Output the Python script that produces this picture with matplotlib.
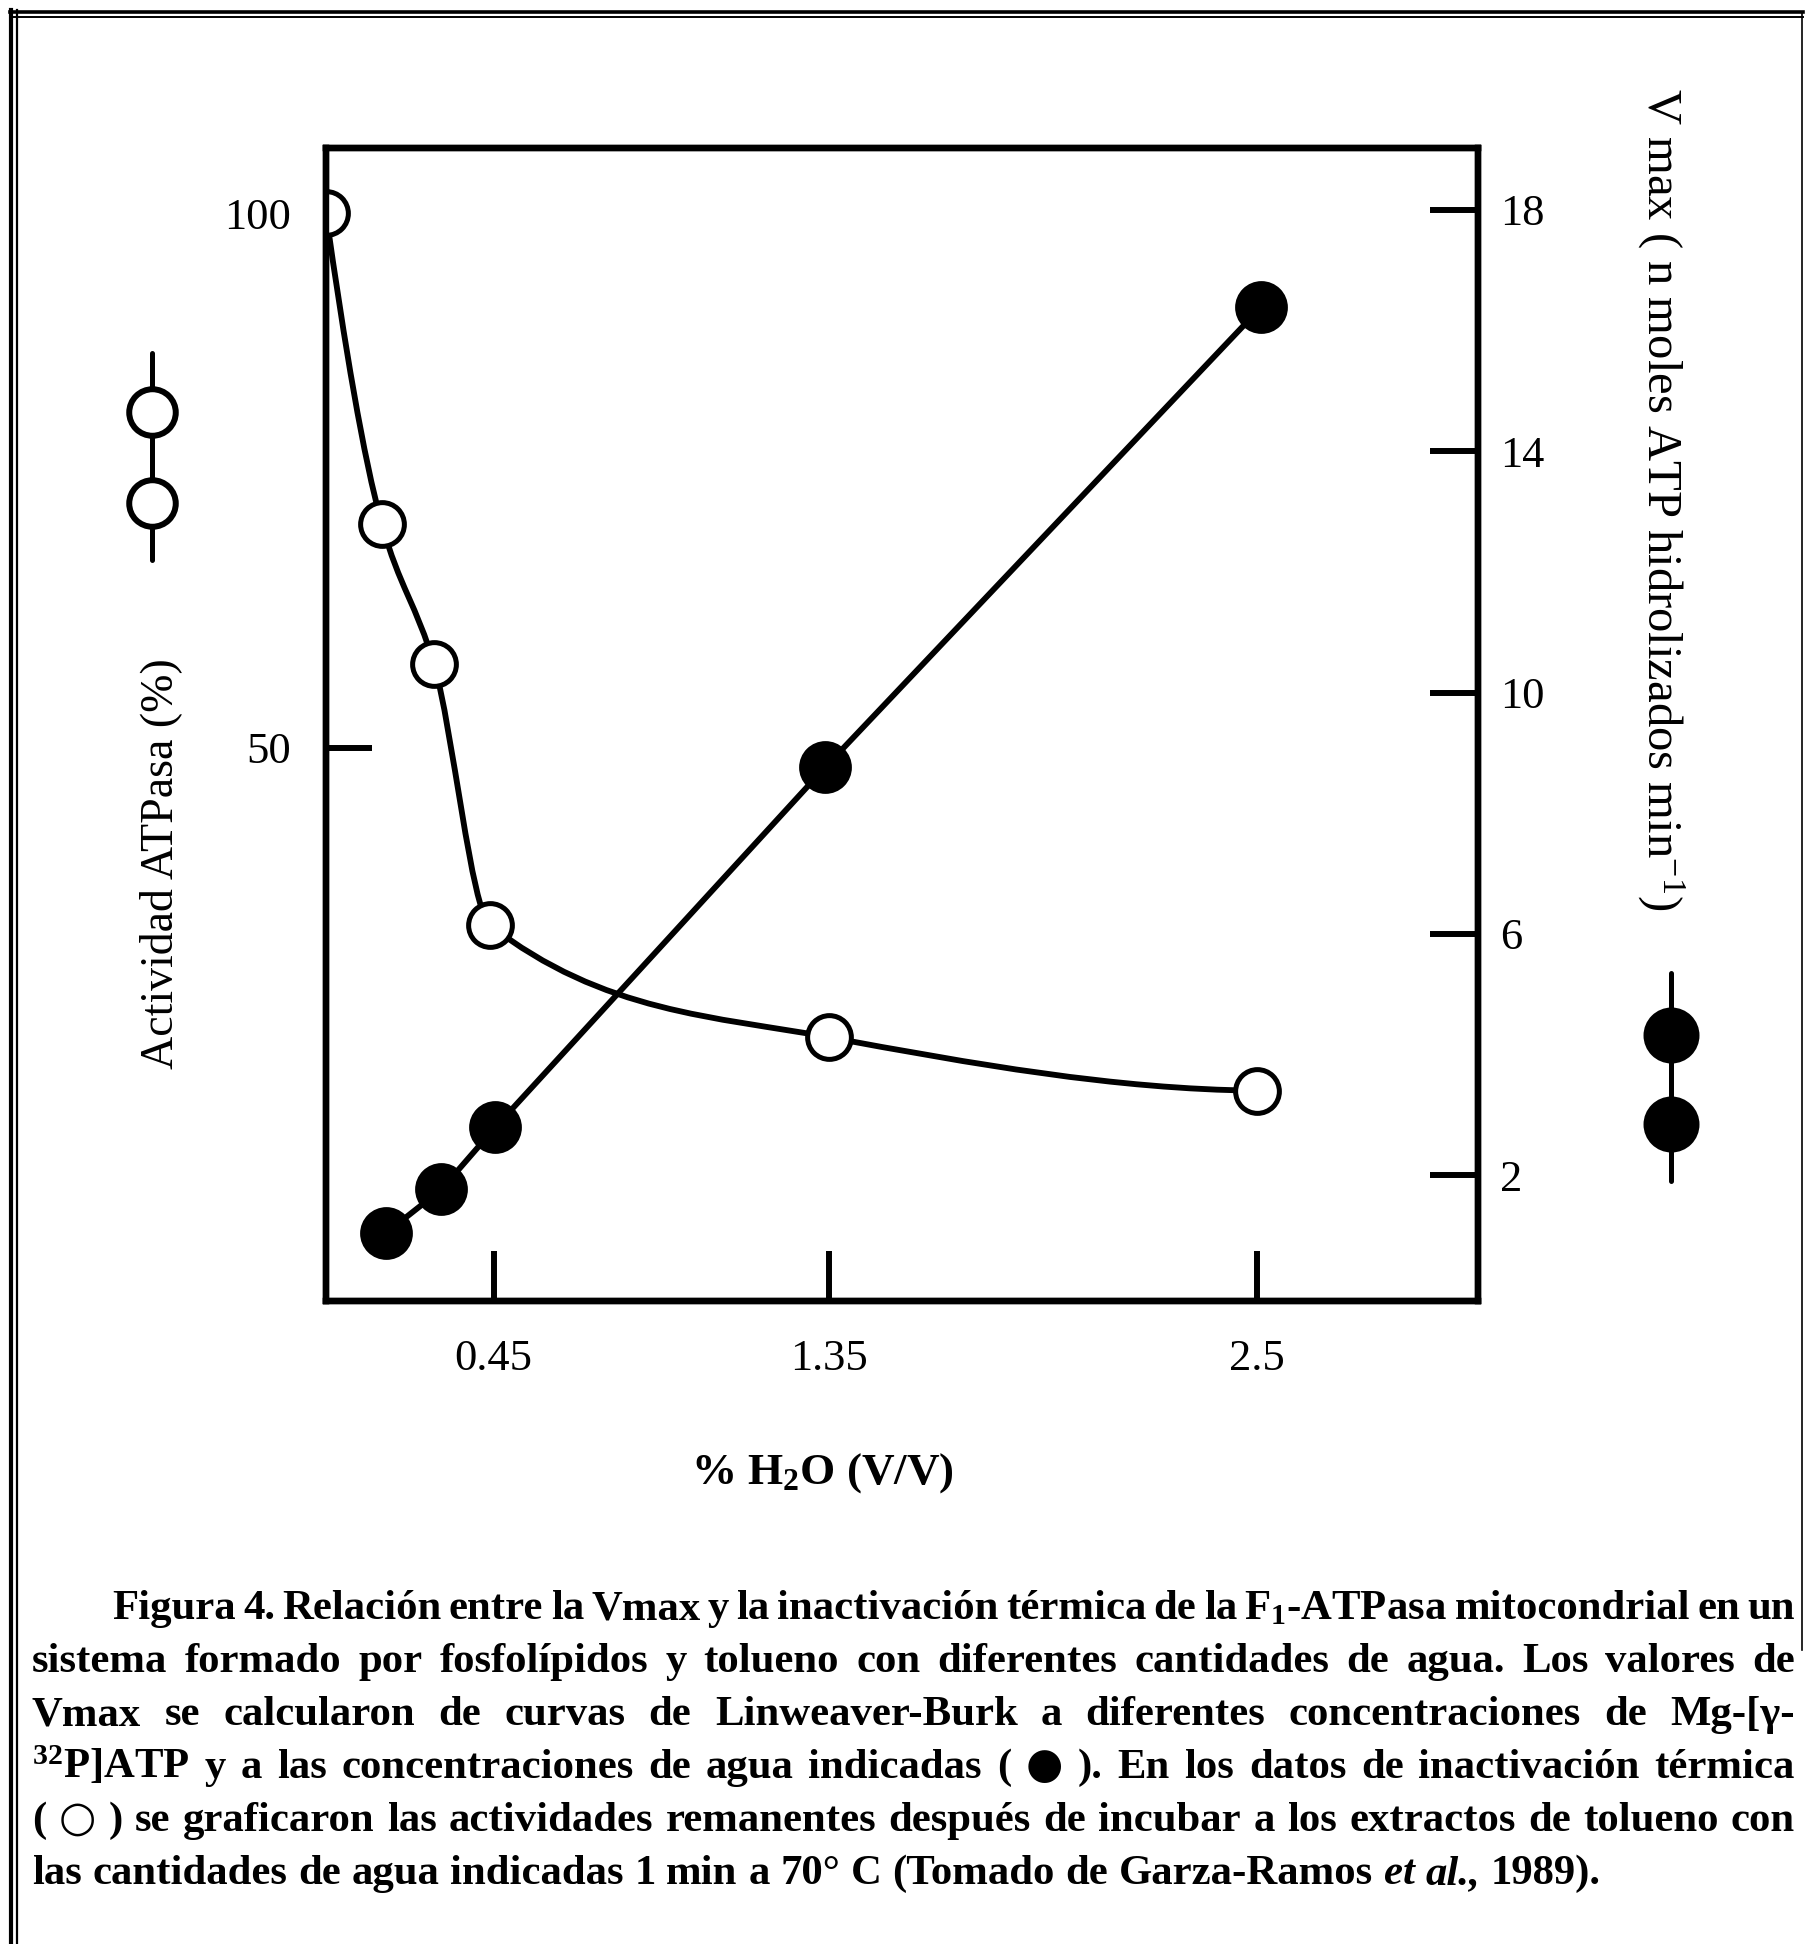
import matplotlib
matplotlib.use("Agg")
import matplotlib.pyplot as plt
import numpy as np
from matplotlib.lines import Line2D
from matplotlib.patches import PathPatch
from matplotlib.path import Path

# % H2O (V/V) y actividad remanente tras 1 min a 70 °C (circulos abiertos)
agua_inact = [0.0, 0.15, 0.29, 0.44, 1.35, 2.50]
actividad = [100.0, 70.9, 57.8, 33.4, 22.9, 17.9]

# % H2O (V/V) y Vmax (n moles ATP hidrolizados / min, circulos llenos)
agua_vmax = [0.16, 0.31, 0.455, 1.34, 2.51]
vmax = [1.04, 1.77, 2.80, 8.76, 16.38]

x_ticks = [0.45, 1.35, 2.5]
x_ticklabels = ["0.45", "1.35", "2.5"]
left_ticks = [50, 100]
right_ticks = [2, 6, 10, 14, 18]

CAPTION = [
    "Figura 4. Relación entre la Vmax y la inactivación térmica de la "
    "F$_{\\mathbf{1}}$-ATPasa mitocondrial en un",
    "sistema formado por fosfolípidos y tolueno con diferentes cantidades "
    "de agua. Los valores de",
    "Vmax se calcularon de curvas de Linweaver-Burk a diferentes "
    "concentraciones de Mg-[γ-",
    "$^{\\mathbf{32}}$P]ATP y a las concentraciones de agua indicadas ( ● ). "
    "En los datos de inactivación térmica",
    "( ○ ) se graficaron las actividades remanentes después de incubar a "
    "los extractos de tolueno con",
    "las cantidades de agua indicadas 1 min a 70° C (Tomado de Garza-Ramos "
    "et al., 1989).",
]
ITALIC = {"et", "al.,"}
SIMBOLOS = {"●", "○"}

plt.rcParams.update({
    "font.family": ["Liberation Serif", "DejaVu Sans"],
    "mathtext.fontset": "custom",
    "mathtext.rm": "Liberation Serif",
    "mathtext.it": "Liberation Serif:italic",
    "mathtext.bf": "Liberation Serif:bold",
})

W, H = 1805, 1944
fig = plt.figure(figsize=(W / 100, H / 100), dpi=100)
fig.patch.set_facecolor("white")


def fx(px):
    return px / W


def fy(px):
    return 1 - px / H


ax = fig.add_axes([fx(326), fy(1301), (1478 - 326) / W, (1301 - 148) / H])
ax2 = ax.twinx()

ax.set_xlim(0, 3.093)
ax.set_ylim(-1.78, 106.1)
ax2.set_ylim(-0.08, 19.02)


def pchip_slopes(x, y):
    h = np.diff(x)
    delta = np.diff(y) / h
    d = np.zeros_like(y)
    for k in range(1, len(x) - 1):
        if delta[k - 1] * delta[k] > 0:
            w1 = 2 * h[k] + h[k - 1]
            w2 = h[k] + 2 * h[k - 1]
            d[k] = (w1 + w2) / (w1 / delta[k - 1] + w2 / delta[k])
    for k, (h0, h1, d0, d1) in ((0, (h[0], h[1], delta[0], delta[1])),
                                (-1, (h[-1], h[-2], delta[-1], delta[-2]))):
        s = ((2 * h0 + h1) * d0 - h0 * d1) / (h0 + h1)
        if s * d0 <= 0:
            s = 0.0
        elif d0 * d1 < 0 and abs(s) > 3 * abs(d0):
            s = 3 * d0
        d[k] = s
    return d


def smooth_path(axis, xs, ys):
    # curva monotona (Hermite / PCHIP) trazada en pixeles como Bezier
    pts = axis.transData.transform(np.column_stack([xs, ys]))
    px, py = pts[:, 0], pts[:, 1]
    d = pchip_slopes(px, py)
    verts, codes = [pts[0]], [Path.MOVETO]
    for i in range(len(px) - 1):
        hx = (px[i + 1] - px[i]) / 3
        verts += [(px[i] + hx, py[i] + d[i] * hx),
                  (px[i + 1] - hx, py[i + 1] - d[i + 1] * hx),
                  (px[i + 1], py[i + 1])]
        codes += [Path.CURVE4] * 3
    verts = axis.transData.inverted().transform(np.array(verts))
    return Path(verts, codes)


LW = 4.2
ax.add_patch(PathPatch(smooth_path(ax, agua_inact, actividad), fill=False,
                       edgecolor="black", linewidth=LW, zorder=2))
ax.plot(agua_inact, actividad, linestyle="none", marker="o", ms=31.5,
        mfc="white", mec="black", mew=3.6, zorder=3)

ax2.plot(agua_vmax, vmax, color="black", linewidth=LW, marker="o", ms=36,
         mfc="black", mec="black", mew=2, zorder=3)

# ejes
for a in (ax, ax2):
    for s in a.spines.values():
        s.set_linewidth(4.6)

ax.set_xticks(x_ticks, x_ticklabels)
ax.set_yticks(left_ticks, [str(v) for v in left_ticks])
ax2.set_yticks(right_ticks, [str(v) for v in right_ticks])
ax.tick_params(axis="x", direction="in", length=36, width=4.3,
               labelsize=32, pad=27)
ax.tick_params(axis="y", direction="in", length=33, width=4.3,
               labelsize=32, pad=25)
ax2.tick_params(axis="y", direction="in", length=34.5, width=4.3,
                labelsize=32, pad=16)
ax.yaxis.get_major_ticks()[1].tick1line.set_visible(False)

ax.text((822 - 326) / 1152, (1301 - 1473) / 1153,
        "% H$_{\\mathbf{2}}$O (V/V)", transform=ax.transAxes,
        ha="center", va="center", fontsize=32.5, fontweight="bold")
ax.text((161 - 326) / 1152, (1301 - 864) / 1153, "Actividad ATPasa (%)",
        transform=ax.transAxes, rotation=90, ha="center", va="center",
        fontsize=33)
ax.text((1661 - 326) / 1152, (1301 - 499) / 1153,
        "V max ( n moles ATP hidrolizados min$^{-1}$)",
        transform=ax.transAxes, rotation=-90, ha="center", va="center",
        fontsize=35)

# simbolos de cada serie junto a su eje
def serie_simbolo(x, y0, y1, c1, c2, face, ms):
    fig.add_artist(Line2D([fx(x), fx(x)], [fy(y0), fy(y1)], color="black",
                          linewidth=3.6, solid_capstyle="round"))
    fig.add_artist(Line2D([fx(x), fx(x)], [fy(c1), fy(c2)], linestyle="none",
                          marker="o", ms=ms, mfc=face, mec="black", mew=4.3))


serie_simbolo(152, 353, 560, 412, 503, "white", 33.5)
serie_simbolo(1671, 973, 1181, 1035, 1124, "black", 36)

# recuadro de la figura
for x, lw in ((11, 3.0), (17, 1.6)):
    fig.add_artist(Line2D([fx(x), fx(x)], [fy(10), 0], color="black", linewidth=lw))
for y, lw in ((12, 2.6), (17, 1.4)):
    fig.add_artist(Line2D([fx(10), fx(1803)], [fy(y), fy(y)], color="black", linewidth=lw))
fig.add_artist(Line2D([fx(1802), fx(1802)], [fy(12), fy(1650)], color="black", linewidth=1.2))

# pie de figura justificado
CAP_SIZE = 30.8
X_LEFT, X_INDENT, X_RIGHT = 32, 112, 1795
BASE0, LEAD = 1619, 53
renderer = fig.canvas.get_renderer()
for i, line in enumerate(CAPTION):
    words = line.split(" ")
    arts = []
    for w in words:
        kw = dict(fontsize=CAP_SIZE, fontweight="bold", va="baseline",
                  style="italic" if w in ITALIC else "normal")
        if w in SIMBOLOS:
            kw.update(family="DejaVu Sans", fontsize=CAP_SIZE)
        arts.append(fig.text(0, fy(BASE0 + i * LEAD), w, **kw))
    widths = [a.get_window_extent(renderer).width for a in arts]
    x = X_INDENT if i == 0 else X_LEFT
    last = i == len(CAPTION) - 1
    gap = CAP_SIZE * 100 / 72 * 0.25 if last else \
        (X_RIGHT - x - sum(widths)) / (len(words) - 1)
    for a, w in zip(arts, widths):
        a.set_x(fx(x))
        x += w + gap

fig.savefig("out.png", dpi=100, facecolor="white")
